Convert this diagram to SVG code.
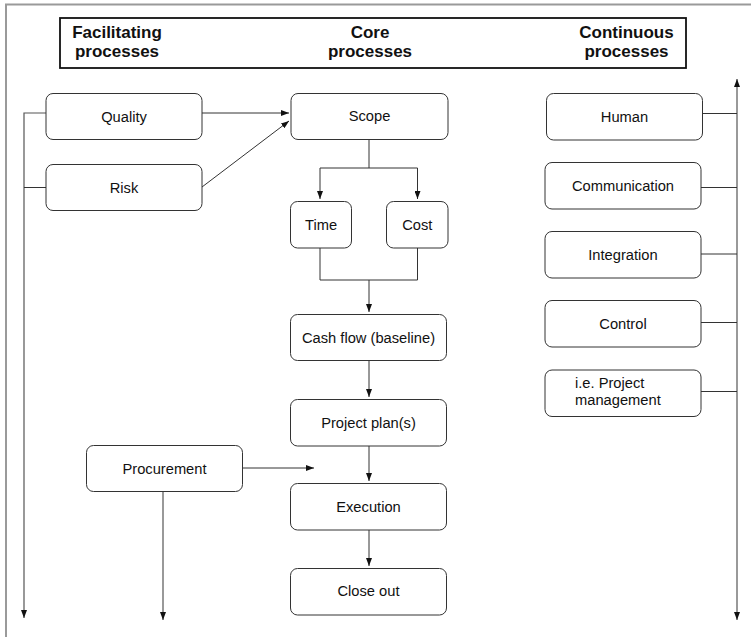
<svg xmlns="http://www.w3.org/2000/svg" width="751" height="637" viewBox="0 0 751 637">
<style>
.frame{fill:none;stroke:#9a9a9a;stroke-width:2}
.title-box{fill:#fff;stroke:#111;stroke-width:1.8}
.title{font-family:"Liberation Sans",Arial,sans-serif;font-weight:bold;font-size:17px;fill:#111;text-anchor:middle}
.box{fill:#fff;stroke:#333;stroke-width:1}
.lbl{font-family:"Liberation Sans",Arial,sans-serif;font-size:14.7px;fill:#111;text-anchor:middle}
.lbl-l{font-family:"Liberation Sans",Arial,sans-serif;font-size:14.7px;fill:#111}
.c{fill:none;stroke:#333;stroke-width:1}
.ca{fill:none;stroke:#333;stroke-width:1;marker-end:url(#ah)}
.side{fill:none;stroke:#555;stroke-width:1.2;marker-end:url(#ah)}
</style>
<defs>
<marker id="ah" viewBox="0 0 8 6" refX="8" refY="3" markerWidth="8" markerHeight="6" markerUnits="userSpaceOnUse" orient="auto">
<path d="M0,0 L8,3 L0,6 z" fill="#111"/>
</marker>
</defs>
<rect width="751" height="637" fill="#fff"/>
<path class="frame" d="M6,637 L6,4.5 L751,4.5"/>
<g id="header">
<rect class="title-box" x="60" y="18" width="626" height="50"/>
<text class="title" x="117" y="37.5">Facilitating</text>
<text class="title" x="117" y="56.5">processes</text>
<text class="title" x="370" y="37.5">Core</text>
<text class="title" x="370" y="56.5">processes</text>
<text class="title" x="626.5" y="37.5">Continuous</text>
<text class="title" x="626.5" y="56.5">processes</text>
</g>
<g id="connectors">
<path class="side" d="M46,113 L24,113 L24,618"/>
<path class="c" d="M24,187.5 L46,187.5"/>
<path class="ca" d="M202,113 L289,113"/>
<path class="ca" d="M202,187 L289,121"/>
<path class="c" d="M369,139 L369,168"/>
<path class="ca" d="M369,168 L320,168 L320,199"/>
<path class="ca" d="M369,168 L417.5,168 L417.5,199"/>
<path class="c" d="M320,248 L320,280 L417.5,280 L417.5,248"/>
<path class="ca" d="M369,280 L369,312"/>
<path class="ca" d="M369,361 L369,397"/>
<path class="ca" d="M369,446 L369,481"/>
<path class="ca" d="M369,530 L369,566"/>
<path class="ca" d="M242,468 L314,468"/>
<path class="side" d="M163,492 L163,620"/>
<path class="side" d="M737,350 L737,79"/>
<path class="side" d="M737,350 L737,620"/>
<path class="c" d="M702,113.5 L737,113.5"/>
<path class="c" d="M701,187.5 L737,187.5"/>
<path class="c" d="M701,254 L737,254"/>
<path class="c" d="M701,322.5 L737,322.5"/>
<path class="c" d="M701,391.5 L737,391.5"/>
</g>
<g id="quality"><rect class="box" x="46" y="93.5" width="156" height="46" rx="7"/><text class="lbl" x="124" y="121.5">Quality</text></g>
<g id="risk"><rect class="box" x="46" y="164.5" width="156" height="46" rx="7"/><text class="lbl" x="124" y="192.5">Risk</text></g>
<g id="procurement"><rect class="box" x="86.5" y="445.5" width="156" height="46" rx="7"/><text class="lbl" x="164.5" y="473.5">Procurement</text></g>
<g id="scope"><rect class="box" x="291" y="93.5" width="157" height="46" rx="7"/><text class="lbl" x="369.5" y="121">Scope</text></g>
<g id="time"><rect class="box" x="290.5" y="201.5" width="61" height="46.5" rx="7"/><text class="lbl" x="321" y="229.5">Time</text></g>
<g id="cost"><rect class="box" x="386.5" y="201.5" width="61.5" height="46.5" rx="7"/><text class="lbl" x="417.3" y="229.5">Cost</text></g>
<g id="cashflow"><rect class="box" x="290.5" y="314.5" width="156" height="46" rx="7"/><text class="lbl" x="368.5" y="342.5">Cash flow (baseline)</text></g>
<g id="projectplan"><rect class="box" x="290.5" y="399.5" width="156" height="46.5" rx="7"/><text class="lbl" x="368.5" y="427.5">Project plan(s)</text></g>
<g id="execution"><rect class="box" x="290.5" y="483.5" width="156" height="46.5" rx="7"/><text class="lbl" x="368.5" y="511.5">Execution</text></g>
<g id="closeout"><rect class="box" x="290.5" y="568.5" width="156" height="46.5" rx="7"/><text class="lbl" x="368.5" y="596">Close out</text></g>
<g id="human"><rect class="box" x="546.5" y="93.5" width="156" height="46.5" rx="7"/><text class="lbl" x="624.5" y="121.5">Human</text></g>
<g id="communication"><rect class="box" x="545" y="162.5" width="156" height="46.5" rx="7"/><text class="lbl" x="623" y="190.5">Communication</text></g>
<g id="integration"><rect class="box" x="545" y="231.5" width="156" height="46.5" rx="7"/><text class="lbl" x="623" y="259.5">Integration</text></g>
<g id="control"><rect class="box" x="545" y="300.5" width="156" height="46.5" rx="7"/><text class="lbl" x="623" y="328.5">Control</text></g>
<g id="projectmanagement"><rect class="box" x="545" y="370" width="156" height="46.5" rx="7"/><text class="lbl-l" x="575" y="387.5">i.e. Project</text><text class="lbl-l" x="575" y="404.5">management</text></g>
</svg>
